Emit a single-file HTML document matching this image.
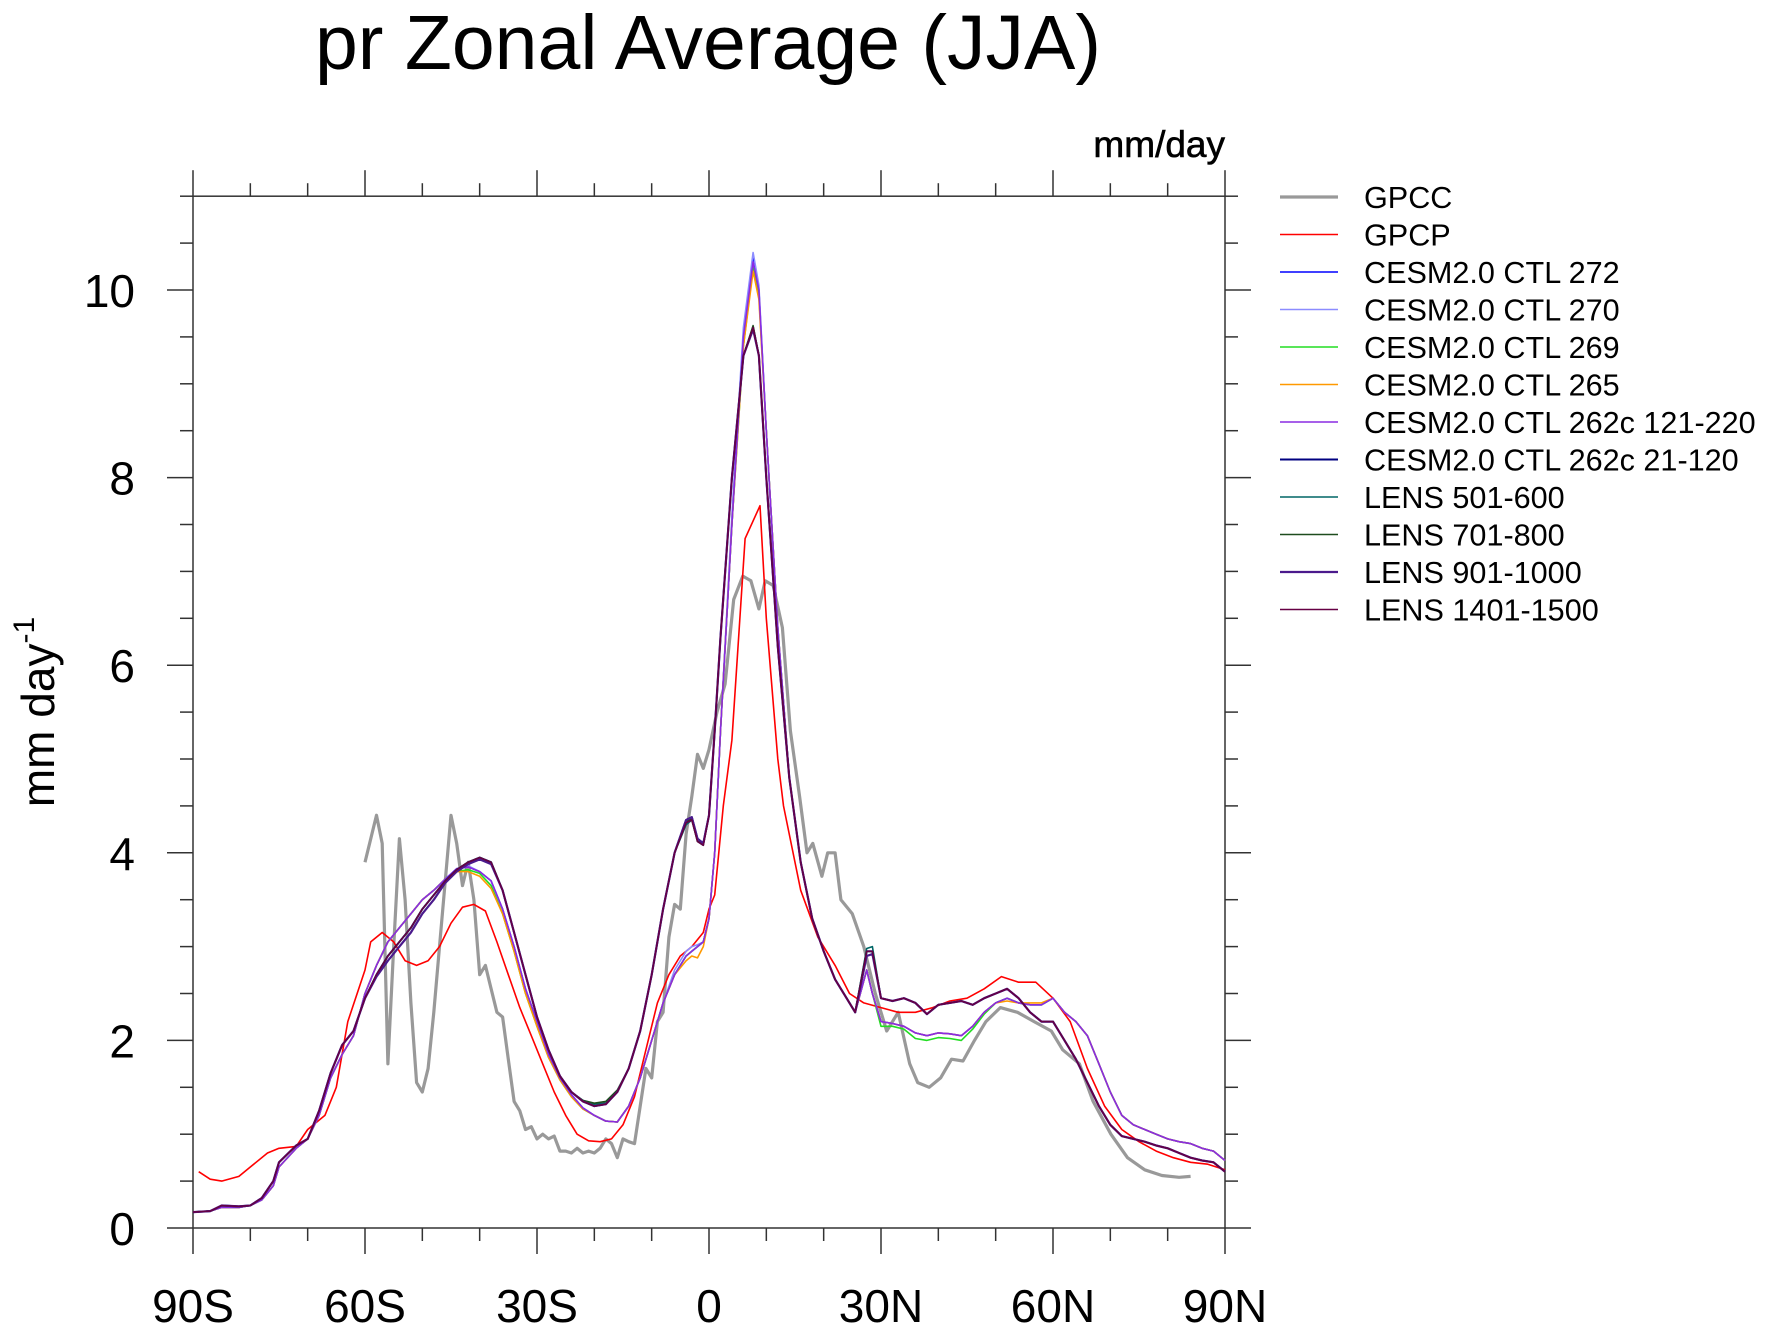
<!DOCTYPE html>
<html><head><meta charset="utf-8"><style>
html,body{margin:0;padding:0;background:#fff;}
svg{display:block;font-family:"Liberation Sans",sans-serif;}
</style></head><body>
<svg id="chart" width="1768" height="1332" viewBox="0 0 1768 1332" xmlns="http://www.w3.org/2000/svg">
<text x="708" y="69" font-size="77" text-anchor="middle">pr Zonal Average (JJA)</text>
<text x="1225" y="157" font-size="37" text-anchor="end" stroke="#000" stroke-width="0.6">mm/day</text>
<text transform="translate(54,712) rotate(-90)" font-size="46" text-anchor="middle">mm day<tspan font-size="30" dy="-20">-1</tspan></text>
<g id="axes"></g>
<g id="series"></g>
<g id="legend"></g>
</svg>
<script>
const yTicks = [0,2,4,6,8,10];
const xTickLabels = ["90S","60S","30S","0","30N","60N","90N"];
const xTickLats = [-90,-60,-30,0,30,60,90];

const latModel = [-90,-87,-85,-82,-80,-78,-76,-75,-72,-70,-68,-66,-64,-62,-60,-58,-56,-54,-52,-50,-48,-46,-44,-42,-40,-38,-36,-34,-32,-30,-28,-26,-24,-22,-20,-18,-16,-14,-12,-10,-8,-6,-4,-3,-2,-1,0,1,2,4,6,7.7,8.7,10,12,14,16,18,20,22,24,25.5,27.5,28.5,30,32,34,36,38,40,42,44,46,48,50,52,54,56,58,60,62,64,66,68,70,72,74,76,78,80,82,84,86,88,90];

const cesm272 = [.17,.18,.22,.22,.24,.3,.45,.65,.85,.95,1.2,1.6,1.85,2.05,2.5,2.8,3.05,3.2,3.35,3.5,3.6,3.72,3.83,3.85,3.8,3.7,3.4,3.0,2.55,2.2,1.85,1.6,1.42,1.28,1.2,1.14,1.13,1.3,1.6,2.0,2.4,2.7,2.9,2.95,3.0,3.05,3.3,4.0,5.3,7.5,9.5,10.35,10.0,8.5,6.4,4.8,3.9,3.3,2.95,2.65,2.45,2.3,2.75,2.5,2.2,2.18,2.15,2.08,2.05,2.08,2.07,2.05,2.15,2.3,2.4,2.45,2.4,2.38,2.38,2.45,2.3,2.2,2.05,1.75,1.45,1.2,1.1,1.05,1.0,0.95,0.92,0.9,0.85,0.82,0.72];
const cesm270 = [.17,.18,.22,.22,.24,.3,.45,.65,.85,.95,1.2,1.6,1.85,2.05,2.5,2.8,3.05,3.2,3.35,3.5,3.6,3.72,3.83,3.86,3.8,3.7,3.4,3.0,2.55,2.2,1.85,1.6,1.42,1.28,1.2,1.14,1.13,1.3,1.6,2.0,2.4,2.75,2.95,3.0,3.02,3.05,3.3,4.0,5.3,7.6,9.6,10.4,10.05,8.5,6.4,4.8,3.9,3.3,2.95,2.65,2.45,2.3,2.75,2.5,2.2,2.18,2.15,2.08,2.05,2.08,2.07,2.05,2.15,2.3,2.4,2.45,2.4,2.38,2.38,2.45,2.3,2.2,2.05,1.75,1.45,1.2,1.1,1.05,1.0,0.95,0.92,0.9,0.85,0.82,0.72];
const cesm269 = [.17,.18,.22,.22,.24,.3,.45,.65,.85,.95,1.2,1.6,1.85,2.05,2.5,2.8,3.05,3.2,3.35,3.5,3.6,3.72,3.8,3.82,3.78,3.65,3.35,2.95,2.5,2.15,1.82,1.58,1.4,1.27,1.2,1.14,1.13,1.3,1.6,2.0,2.4,2.7,2.9,2.95,3.0,3.05,3.3,4.0,5.3,7.5,9.4,10.25,9.95,8.5,6.4,4.8,3.9,3.3,2.95,2.65,2.45,2.3,2.75,2.5,2.15,2.15,2.12,2.02,2.0,2.03,2.02,2.0,2.12,2.28,2.4,2.45,2.4,2.38,2.38,2.45,2.3,2.2,2.05,1.75,1.45,1.2,1.1,1.05,1.0,0.95,0.92,0.9,0.85,0.82,0.72];
const cesm265 = [.17,.18,.22,.22,.24,.3,.45,.65,.85,.95,1.2,1.6,1.85,2.05,2.5,2.8,3.05,3.2,3.35,3.5,3.6,3.72,3.8,3.8,3.75,3.62,3.35,2.95,2.5,2.15,1.82,1.58,1.4,1.27,1.2,1.14,1.13,1.3,1.6,2.0,2.4,2.7,2.85,2.9,2.88,3.0,3.3,4.0,5.3,7.5,9.4,10.2,9.9,8.5,6.4,4.8,3.9,3.3,2.95,2.65,2.45,2.3,2.75,2.5,2.2,2.18,2.15,2.08,2.05,2.08,2.07,2.05,2.15,2.3,2.4,2.42,2.4,2.4,2.4,2.45,2.3,2.2,2.05,1.75,1.45,1.2,1.1,1.05,1.0,0.95,0.92,0.9,0.85,0.82,0.72];
const cesm262a = [.17,.18,.22,.22,.24,.3,.45,.65,.85,.95,1.2,1.6,1.85,2.05,2.5,2.8,3.05,3.2,3.35,3.5,3.6,3.72,3.83,3.85,3.8,3.7,3.4,3.0,2.55,2.2,1.85,1.6,1.42,1.28,1.2,1.14,1.13,1.3,1.6,2.0,2.4,2.7,2.9,2.95,3.0,3.05,3.3,4.0,5.3,7.5,9.5,10.3,10.0,8.5,6.4,4.8,3.9,3.3,2.95,2.65,2.45,2.3,2.75,2.5,2.2,2.18,2.15,2.08,2.05,2.08,2.07,2.05,2.15,2.3,2.4,2.45,2.4,2.38,2.38,2.45,2.3,2.2,2.05,1.75,1.45,1.2,1.1,1.05,1.0,0.95,0.92,0.9,0.85,0.82,0.72];
const cesm262b = [.17,.18,.24,.23,.24,.32,.5,.7,.88,.95,1.25,1.65,1.95,2.1,2.45,2.7,2.9,3.05,3.2,3.4,3.55,3.7,3.82,3.9,3.95,3.9,3.6,3.15,2.7,2.25,1.9,1.62,1.45,1.35,1.3,1.32,1.45,1.7,2.1,2.7,3.4,4.0,4.35,4.38,4.15,4.1,4.4,5.3,6.3,8.0,9.3,9.6,9.3,8.0,6.2,4.8,3.9,3.3,2.95,2.65,2.45,2.3,2.95,2.95,2.45,2.42,2.45,2.4,2.28,2.38,2.4,2.42,2.38,2.45,2.5,2.55,2.45,2.3,2.2,2.2,2.0,1.8,1.55,1.3,1.1,0.98,0.95,0.92,0.88,0.85,0.8,0.75,0.72,0.7,0.6];
const lens501 = [.17,.18,.24,.23,.24,.32,.5,.7,.88,.95,1.25,1.65,1.95,2.1,2.45,2.7,2.9,3.05,3.2,3.4,3.55,3.7,3.82,3.9,3.95,3.9,3.6,3.15,2.7,2.25,1.9,1.62,1.45,1.36,1.32,1.33,1.45,1.7,2.1,2.7,3.4,4.0,4.3,4.35,4.12,4.08,4.4,5.3,6.3,8.0,9.3,9.6,9.3,8.0,6.2,4.8,3.9,3.3,2.95,2.65,2.45,2.3,2.98,3.0,2.45,2.42,2.45,2.4,2.28,2.38,2.4,2.42,2.38,2.45,2.5,2.55,2.45,2.3,2.2,2.2,2.0,1.8,1.55,1.3,1.1,0.98,0.95,0.92,0.88,0.85,0.8,0.75,0.72,0.7,0.6];
const lens701 = [.17,.18,.24,.23,.24,.32,.5,.7,.88,.95,1.25,1.65,1.95,2.1,2.45,2.7,2.9,3.05,3.2,3.4,3.55,3.7,3.82,3.9,3.95,3.9,3.6,3.15,2.7,2.25,1.9,1.62,1.45,1.36,1.33,1.35,1.47,1.7,2.1,2.7,3.4,4.0,4.33,4.36,4.12,4.1,4.4,5.3,6.3,8.0,9.3,9.62,9.3,8.0,6.2,4.8,3.9,3.3,2.95,2.65,2.45,2.3,2.95,2.95,2.45,2.42,2.45,2.4,2.28,2.38,2.4,2.42,2.38,2.45,2.5,2.55,2.45,2.3,2.2,2.2,2.0,1.8,1.55,1.3,1.1,0.98,0.95,0.92,0.88,0.85,0.8,0.75,0.72,0.7,0.6];
const lens901 = [.17,.18,.24,.23,.24,.32,.5,.7,.88,.95,1.25,1.65,1.95,2.1,2.45,2.68,2.85,3.0,3.15,3.35,3.5,3.68,3.8,3.88,3.93,3.88,3.6,3.15,2.7,2.25,1.9,1.62,1.45,1.35,1.3,1.32,1.45,1.7,2.1,2.7,3.4,4.0,4.35,4.38,4.15,4.1,4.4,5.3,6.3,8.0,9.3,9.58,9.3,8.0,6.2,4.8,3.9,3.3,2.95,2.65,2.45,2.3,2.9,2.92,2.45,2.42,2.45,2.4,2.28,2.38,2.4,2.42,2.38,2.45,2.5,2.55,2.45,2.3,2.2,2.2,2.0,1.8,1.55,1.3,1.1,0.98,0.95,0.92,0.88,0.85,0.8,0.75,0.72,0.7,0.6];
const lens1401 = [.17,.18,.24,.23,.24,.32,.5,.7,.88,.95,1.25,1.65,1.95,2.1,2.45,2.7,2.9,3.05,3.2,3.4,3.55,3.7,3.82,3.9,3.95,3.9,3.6,3.15,2.7,2.25,1.9,1.62,1.45,1.35,1.3,1.32,1.45,1.7,2.1,2.7,3.4,4.0,4.32,4.35,4.12,4.08,4.4,5.3,6.3,8.0,9.3,9.6,9.3,8.0,6.2,4.8,3.9,3.3,2.95,2.65,2.45,2.3,2.95,2.95,2.45,2.42,2.45,2.4,2.28,2.38,2.4,2.42,2.38,2.45,2.5,2.55,2.45,2.3,2.2,2.2,2.0,1.8,1.55,1.3,1.1,0.98,0.95,0.92,0.88,0.85,0.8,0.75,0.72,0.7,0.6];

const latGPCC = [-60,-58,-57,-56,-55,-54,-53,-52,-51,-50,-49,-48,-47,-45,-44,-43,-42,-41,-40,-39,-38,-37,-36,-35,-34,-33,-32,-31,-30,-29,-28,-27,-26,-25,-24,-23,-22,-21,-20,-19,-18,-17,-16,-15,-14,-13,-12,-11,-10,-9,-8,-7,-6,-5,-4,-3,-2,-1,0,1.4,2.8,4.3,5.9,7.3,8.7,9.8,11.2,12.8,14.2,15.8,17.1,18.1,19.7,20.7,22,23,25,27,29,31,33,35,36.4,38.4,40.4,42.3,44.3,46.3,48.3,50.8,53.8,56.7,59.7,61.7,64.6,67,70.1,73,76,79,82,84];
const gpcc = [3.9,4.4,4.1,1.75,3.0,4.15,3.5,2.4,1.55,1.45,1.7,2.3,3.0,4.4,4.1,3.65,3.9,3.5,2.7,2.8,2.55,2.3,2.25,1.8,1.35,1.25,1.05,1.08,0.95,1.0,0.95,0.98,0.82,0.82,0.8,0.85,0.8,0.82,0.8,0.85,0.95,0.9,0.75,0.95,0.92,0.9,1.3,1.7,1.6,2.2,2.3,3.1,3.45,3.4,4.2,4.6,5.05,4.9,5.1,5.5,5.8,6.7,6.95,6.9,6.6,6.9,6.85,6.4,5.3,4.6,4.0,4.1,3.75,4.0,4.0,3.5,3.35,3.0,2.5,2.1,2.3,1.75,1.55,1.5,1.6,1.8,1.78,2.0,2.2,2.35,2.3,2.2,2.1,1.9,1.75,1.35,1.0,0.75,0.62,0.56,0.54,0.55];

const latGPCP = [-89,-87,-85,-82,-80,-77,-75,-72,-70,-67,-65,-63,-60,-59,-57,-55,-53,-51,-49,-47,-45,-43,-41,-39,-37,-35,-33,-31,-29,-27,-25,-23,-21,-19,-17,-15,-13,-11,-9,-7,-5,-3,-1,0,1,2.5,4,6.3,8.9,10,12,13,16,19,22,24.5,27,30,33,36,39,42,45,48,51,54,57,60,63,66,69,72,75,78,81,84,87,90];
const gpcp = [.6,.52,.5,.55,.65,.8,.85,.87,1.05,1.2,1.5,2.2,2.75,3.05,3.15,3.05,2.85,2.8,2.85,3.0,3.25,3.42,3.45,3.38,3.05,2.7,2.35,2.05,1.75,1.45,1.2,1.0,.93,.92,.95,1.1,1.4,1.9,2.4,2.7,2.9,3.0,3.15,3.4,3.55,4.5,5.2,7.35,7.7,6.5,5.0,4.5,3.6,3.1,2.8,2.5,2.4,2.35,2.3,2.3,2.35,2.42,2.45,2.55,2.68,2.62,2.62,2.45,2.2,1.7,1.3,1.05,.92,.82,.75,.7,.68,.62];

const seriesNames = ["GPCC","GPCP","CESM2.0 CTL 272","CESM2.0 CTL 270","CESM2.0 CTL 269","CESM2.0 CTL 265","CESM2.0 CTL 262c 121-220","CESM2.0 CTL 262c 21-120","LENS 501-600","LENS 701-800","LENS 901-1000","LENS 1401-1500"];

const NS = "http://www.w3.org/2000/svg";
const X0 = 193, X1 = 1225, Y0 = 1228, PXU = 93.8;
function xs(lat){ return X0 + (lat + 90) / 180 * (X1 - X0); }
function ys(v){ return Y0 - v * PXU; }
function mk(tag, attrs, parent){ const e = document.createElementNS(NS, tag); for (const k in attrs) e.setAttribute(k, attrs[k]); parent.appendChild(e); return e; }

const axes = document.getElementById('axes');
const frame = mk('rect', {x: X0, y: ys(11), width: X1 - X0, height: Y0 - ys(11), fill: 'none', stroke: '#333', 'stroke-width': 1.5}, axes);


for (let v = 0; v <= 11.001; v += 0.5) {
  const major = Math.abs(v - Math.round(v / 2) * 2) < 0.01;
  const L = major ? 26 : 13;
  const yy = ys(v);
  const t1 = mk('line', {x1: X0 - L, x2: X0, y1: yy, y2: yy, stroke: '#333', 'stroke-width': 1.5}, axes);
  
  
  const t2 = mk('line', {x1: X1, x2: X1 + L, y1: yy, y2: yy, stroke: '#333', 'stroke-width': 1.5}, axes);
  
  
}
yTicks.forEach(v => {
  const t = mk('text', {x: 135, y: ys(v) + 17, 'font-size': 46, 'text-anchor': 'end'}, axes);
  t.textContent = String(v);
  
  
});
for (let lat = -90; lat <= 90; lat += 10) {
  const major = lat % 30 === 0;
  const L = major ? 26 : 13;
  const xx = xs(lat);
  const a = mk('line', {x1: xx, x2: xx, y1: ys(11) - L, y2: ys(11), stroke: '#333', 'stroke-width': 1.5}, axes);
  
  
  const b = mk('line', {x1: xx, x2: xx, y1: Y0, y2: Y0 + L, stroke: '#333', 'stroke-width': 1.5}, axes);
  
  
}
xTickLabels.forEach((s, i) => {
  const t = mk('text', {x: xs(xTickLats[i]), y: 1322, 'font-size': 46, 'text-anchor': 'middle'}, axes);
  t.textContent = s;
  
  
});

const seriesDefs = [
  {lat: latGPCC, v: gpcc, c: '#999999', w: 3.2},
  {lat: latGPCP, v: gpcp, c: '#ff0000', w: 1.6},
  {lat: latModel, v: cesm272, c: '#0000ff', w: 1.6},
  {lat: latModel, v: cesm270, c: '#8c8cff', w: 1.6},
  {lat: latModel, v: cesm269, c: '#22dd22', w: 1.6},
  {lat: latModel, v: cesm265, c: '#ff9900', w: 1.6},
  {lat: latModel, v: cesm262a, c: '#8a2be2', w: 1.6},
  {lat: latModel, v: cesm262b, c: '#000080', w: 2},
  {lat: latModel, v: lens501, c: '#006666', w: 1.6},
  {lat: latModel, v: lens701, c: '#1e4d1e', w: 1.6},
  {lat: latModel, v: lens901, c: '#4b1a8c', w: 2.2},
  {lat: latModel, v: lens1401, c: '#660044', w: 1.6}
];
const sg = document.getElementById('series');
seriesDefs.forEach((s, i) => {
  const n = Math.min(s.lat.length, s.v.length);
  let d = '';
  for (let k = 0; k < n; k++) d += (k ? 'L' : 'M') + xs(s.lat[k]).toFixed(1) + ',' + ys(s.v[k]).toFixed(1);
  const p = mk('path', {d: d, fill: 'none', stroke: s.c, 'stroke-width': s.w, 'stroke-linejoin': 'round'}, sg);
  
  
});

const lg = document.getElementById('legend');
seriesDefs.forEach((s, i) => {
  const yy = 197 + i * 37.5;
  const g = mk('g', {}, lg);
  
  
  const l = mk('line', {x1: 1280, x2: 1338, y1: yy, y2: yy, stroke: s.c, 'stroke-width': s.w}, g);
  
  
  const t = mk('text', {x: 1364, y: yy + 11, 'font-size': 30.6}, g);
  t.textContent = seriesNames[i];
  
  
});
</script>
</body></html>
